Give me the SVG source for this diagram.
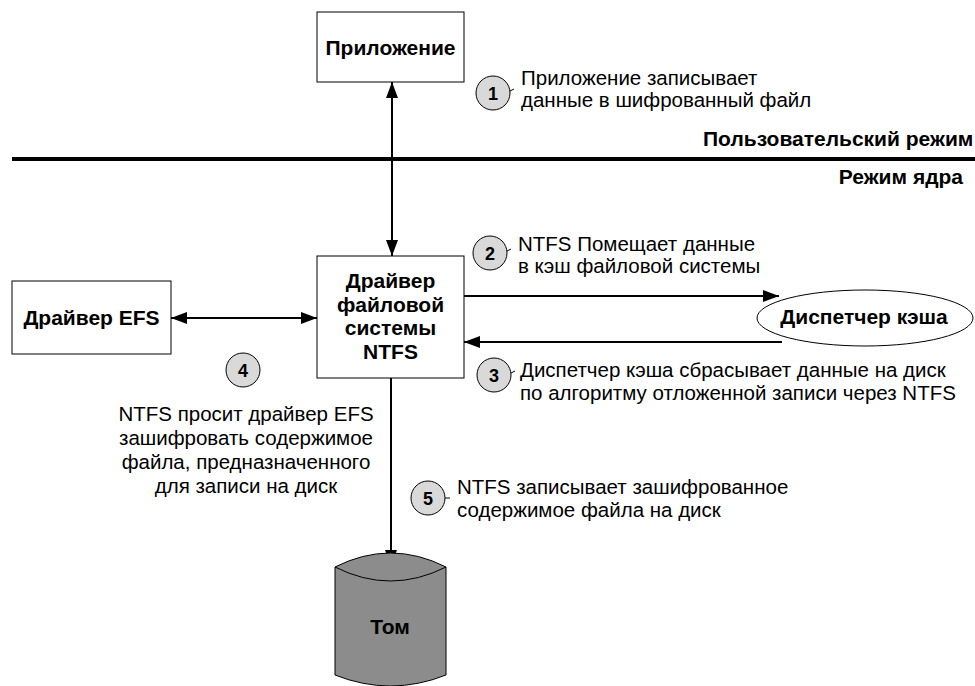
<svg xmlns="http://www.w3.org/2000/svg" width="975" height="686" viewBox="0 0 975 686">
  <style>
    .box { fill: #ffffff; stroke: #000000; stroke-width: 1; }
    .lbl { font-family: "Liberation Sans", Arial, sans-serif; font-weight: bold; font-size: 21px; fill: #000000; text-anchor: middle; }
    .txt { font-family: "Liberation Sans", Arial, sans-serif; font-size: 20.5px; fill: #000000; }
    .mode { font-family: "Liberation Sans", Arial, sans-serif; font-weight: bold; font-size: 21px; fill: #000000; }
    .badge { fill: #d9d9d9; stroke: #000000; stroke-width: 1; }
    .n { font-family: "Liberation Sans", Arial, sans-serif; font-weight: bold; font-size: 18px; fill: #000000; text-anchor: middle; }
    .tick { stroke: #000000; stroke-width: 1; }
    .conn { stroke: #000000; stroke-width: 2; fill: none; }
  </style>
  <defs>
    <marker id="arrow" viewBox="0 0 16 12" refX="16" refY="6" markerWidth="16" markerHeight="12" markerUnits="userSpaceOnUse" orient="auto-start-reverse">
      <path d="M0,0 L16,6 L0,12 Z" fill="#000000"/>
    </marker>
  </defs>

  <rect width="975" height="686" fill="#ffffff"/>

  <!-- user / kernel boundary -->
  <g id="mode-boundary">
    <line x1="12" y1="159" x2="975" y2="159" stroke="#000000" stroke-width="4"/>
    <text class="mode" x="703" y="146">Пользовательский режим</text>
    <text class="mode" x="963" y="184" text-anchor="end">Режим ядра</text>
  </g>

  <!-- connectors -->
  <g id="connectors">
    <line class="conn" x1="392" y1="82" x2="392" y2="256" marker-start="url(#arrow)" marker-end="url(#arrow)"/>
    <line class="conn" x1="171" y1="318" x2="317" y2="318" marker-start="url(#arrow)" marker-end="url(#arrow)"/>
    <line class="conn" x1="464" y1="296" x2="779" y2="296" marker-end="url(#arrow)"/>
    <line class="conn" x1="782" y1="342" x2="464" y2="342" marker-end="url(#arrow)"/>
    <line class="conn" x1="391" y1="378" x2="391" y2="566" marker-end="url(#arrow)"/>
  </g>

  <g id="app">
    <rect class="box" x="317" y="12" width="147" height="70"/>
    <text class="lbl" x="390.5" y="55">Приложение</text>
  </g>

  <g id="efs-driver">
    <rect class="box" x="12" y="281" width="159" height="73"/>
    <text class="lbl" x="91.5" y="325">Драйвер EFS</text>
  </g>

  <g id="ntfs-driver">
    <rect class="box" x="317" y="256" width="147" height="122"/>
    <text class="lbl" x="390.5" y="288">Драйвер</text>
    <text class="lbl" x="390.5" y="312">файловой</text>
    <text class="lbl" x="390.5" y="335">системы</text>
    <text class="lbl" x="390.5" y="359">NTFS</text>
  </g>

  <g id="cache-manager">
    <ellipse cx="865" cy="318" rx="108" ry="28" fill="#ffffff" stroke="#000000" stroke-width="1"/>
    <text class="lbl" x="864" y="324">Диспетчер кэша</text>
  </g>

  <g id="volume">
    <path d="M335,567 Q390.5,539 446,567 L446,675 Q390.5,697 335,675 Z" fill="#8c8c8c" stroke="#000000" stroke-width="1"/>
    <path d="M335,567 Q390.5,595 446,567" fill="none" stroke="#000000" stroke-width="1"/>
    <text class="lbl" x="390" y="634">Том</text>
  </g>

  <!-- numbered steps -->
  <g id="step1">
    <circle class="badge" cx="493" cy="93" r="17"/>
    <line class="tick" x1="510" y1="91" x2="514" y2="89"/>
    <text class="n" x="493" y="99.5">1</text>
    <text class="txt" x="521" y="85">Приложение записывает</text>
    <text class="txt" x="521" y="107">данные в шифрованный файл</text>
  </g>

  <g id="step2">
    <circle class="badge" cx="490" cy="253" r="17"/>
    <line class="tick" x1="507" y1="251" x2="511" y2="249"/>
    <text class="n" x="490" y="259.5">2</text>
    <text class="txt" x="518" y="251">NTFS Помещает данные</text>
    <text class="txt" x="518" y="273">в кэш файловой системы</text>
  </g>

  <g id="step3">
    <circle class="badge" cx="494" cy="375" r="17"/>
    <line class="tick" x1="511" y1="373" x2="515" y2="371"/>
    <text class="n" x="494" y="381.5">3</text>
    <text class="txt" x="520" y="377">Диспетчер кэша сбрасывает данные на диск</text>
    <text class="txt" x="520" y="400">по алгоритму отложенной записи через NTFS</text>
  </g>

  <g id="step4">
    <circle class="badge" cx="243" cy="370" r="17"/>
    <text class="n" x="243" y="376.5">4</text>
    <text class="txt" x="246" y="421" text-anchor="middle">NTFS просит драйвер EFS</text>
    <text class="txt" x="246" y="445" text-anchor="middle">зашифровать содержимое</text>
    <text class="txt" x="246" y="469" text-anchor="middle">файла, предназначенного</text>
    <text class="txt" x="246" y="493" text-anchor="middle">для записи на диск</text>
  </g>

  <g id="step5">
    <circle class="badge" cx="428" cy="498" r="17"/>
    <line class="tick" x1="445" y1="498" x2="450" y2="498"/>
    <text class="n" x="428" y="504.5">5</text>
    <text class="txt" x="457" y="494">NTFS записывает зашифрованное</text>
    <text class="txt" x="457" y="517">содержимое файла на диск</text>
  </g>
</svg>
